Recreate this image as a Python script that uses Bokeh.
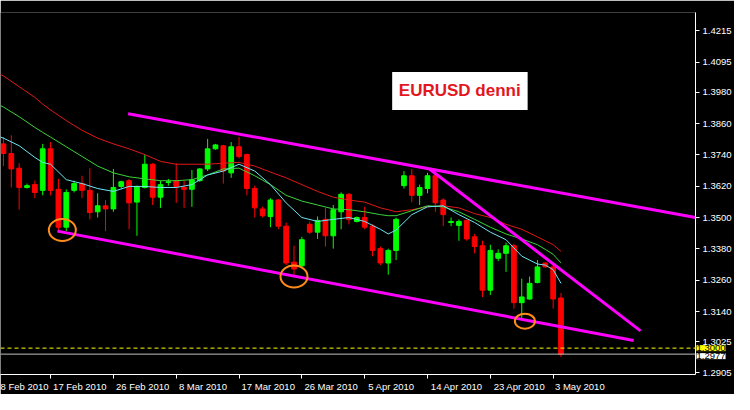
from bokeh.plotting import figure
from bokeh.models import (Range1d, FixedTicker, NumeralTickFormatter, Span, Label,
                          BoxAnnotation, ColumnDataSource)
from bokeh.embed import file_html
from bokeh.resources import INLINE

# ---------------- data ----------------
price_ticks = [1.2905, 1.3025, 1.3140, 1.3260, 1.3380, 1.3500, 1.3620,
               1.3740, 1.3860, 1.3980, 1.4095, 1.4215, 1.4335]
date_labels = ["8 Feb 2010", "17 Feb 2010", "26 Feb 2010", "8 Mar 2010", "17 Mar 2010",
               "26 Mar 2010", "5 Apr 2010", "14 Apr 2010", "23 Apr 2010", "3 May 2010"]
date_bars = [-2, 6, 14, 22, 30, 38, 46, 54, 62, 70]

open_ = [1.3782, 1.3745, 1.3689, 1.3615, 1.3626, 1.3604, 1.3763, 1.3608, 1.3463, 1.3604,
         1.3630, 1.3604, 1.3522, 1.3545, 1.3533, 1.3619, 1.3641, 1.3559, 1.3615, 1.3704,
         1.3578, 1.3634, 1.3641, 1.3615, 1.3608, 1.3641, 1.3686, 1.3763, 1.3775, 1.3671,
         1.3771, 1.3741, 1.3611, 1.3533, 1.3504, 1.3567, 1.3467, 1.3329, 1.3315, 1.3474,
         1.3444, 1.3493, 1.3430, 1.3522, 1.3589, 1.3485, 1.3500, 1.3467, 1.3381, 1.3326,
         1.3374, 1.3622, 1.3660, 1.3585, 1.3611, 1.3660, 1.3567, 1.3481, 1.3470, 1.3489,
         1.3426, 1.3392, 1.3222, 1.3344, 1.3363, 1.3392, 1.3174, 1.3188, 1.3251, 1.3326,
         1.3311, 1.3192]
high = [1.3808, 1.3815, 1.3708, 1.3630, 1.3641, 1.3782, 1.3789, 1.3648, 1.3608, 1.3641,
        1.3660, 1.3689, 1.3593, 1.3567, 1.3686, 1.3641, 1.3648, 1.3622, 1.3741, 1.3708,
        1.3641, 1.3648, 1.3708, 1.3641, 1.3682, 1.3689, 1.3801, 1.3782, 1.3778, 1.3789,
        1.3808, 1.3745, 1.3622, 1.3541, 1.3574, 1.3570, 1.3481, 1.3392, 1.3426, 1.3485,
        1.3504, 1.3537, 1.3548, 1.3596, 1.3593, 1.3504, 1.3541, 1.3474, 1.3389, 1.3381,
        1.3500, 1.3678, 1.3686, 1.3626, 1.3671, 1.3671, 1.3574, 1.3500, 1.3493, 1.3493,
        1.3437, 1.3411, 1.3396, 1.3378, 1.3404, 1.3400, 1.3266, 1.3274, 1.3337, 1.3329,
        1.3318, 1.3211]
low = [1.3697, 1.3615, 1.3530, 1.3611, 1.3574, 1.3585, 1.3585, 1.3448, 1.3448, 1.3596,
       1.3574, 1.3493, 1.3500, 1.3448, 1.3522, 1.3611, 1.3455, 1.3430, 1.3611, 1.3548,
       1.3537, 1.3622, 1.3556, 1.3537, 1.3541, 1.3637, 1.3678, 1.3760, 1.3630, 1.3652,
       1.3726, 1.3585, 1.3500, 1.3500, 1.3463, 1.3455, 1.3318, 1.3281, 1.3307, 1.3437,
       1.3418, 1.3389, 1.3381, 1.3455, 1.3474, 1.3481, 1.3455, 1.3352, 1.3318, 1.3281,
       1.3337, 1.3611, 1.3559, 1.3548, 1.3593, 1.3522, 1.3467, 1.3467, 1.3411, 1.3411,
       1.3363, 1.3196, 1.3203, 1.3333, 1.3292, 1.3151, 1.3110, 1.3185, 1.3248, 1.3307,
       1.3151, 1.2966]
close = [1.3745, 1.3686, 1.3615, 1.3622, 1.3596, 1.3763, 1.3604, 1.3463, 1.3596, 1.3630,
         1.3604, 1.3519, 1.3545, 1.3533, 1.3615, 1.3637, 1.3556, 1.3619, 1.3704, 1.3578,
         1.3626, 1.3637, 1.3619, 1.3608, 1.3645, 1.3686, 1.3763, 1.3778, 1.3678, 1.3771,
         1.3734, 1.3611, 1.3537, 1.3507, 1.3567, 1.3467, 1.3326, 1.3303, 1.3415, 1.3444,
         1.3489, 1.3430, 1.3530, 1.3589, 1.3493, 1.3500, 1.3463, 1.3374, 1.3326, 1.3374,
         1.3493, 1.3660, 1.3585, 1.3615, 1.3660, 1.3556, 1.3511, 1.3485, 1.3485, 1.3418,
         1.3389, 1.3222, 1.3374, 1.3363, 1.3392, 1.3174, 1.3196, 1.3248, 1.3311, 1.3311,
         1.3188, 1.2977]

ma_bars = [-1, 0, 2, 4, 5, 6, 8, 10, 12, 14, 16, 18, 20, 22, 24, 26, 28, 30, 32, 34,
           36, 38, 40, 42, 44, 46, 48, 49, 50, 52, 54, 56, 58, 60, 62, 64, 66, 68, 69, 70, 71]
ma_slow = [1.4057, 1.4042, 1.4001, 1.3960, 1.3934, 1.3912, 1.3871, 1.3834, 1.3804, 1.3782,
           1.3763, 1.3741, 1.3715, 1.3704, 1.3704, 1.3704, 1.3708, 1.3711, 1.3697, 1.3674,
           1.3652, 1.3626, 1.3600, 1.3578, 1.3567, 1.3559, 1.3537, 1.3530, 1.3522, 1.3530,
           1.3541, 1.3545, 1.3537, 1.3515, 1.3500, 1.3474, 1.3455, 1.3426, 1.3411, 1.3396,
           1.3370]
ma_mid = [1.3938, 1.3923, 1.3886, 1.3845, 1.3826, 1.3808, 1.3771, 1.3734, 1.3697, 1.3671,
          1.3656, 1.3648, 1.3641, 1.3641, 1.3645, 1.3663, 1.3686, 1.3689, 1.3660, 1.3626,
          1.3585, 1.3563, 1.3548, 1.3533, 1.3530, 1.3522, 1.3511, 1.3507, 1.3507, 1.3526,
          1.3545, 1.3541, 1.3522, 1.3493, 1.3463, 1.3437, 1.3418, 1.3396, 1.3378, 1.3359,
          1.3326]
ma_fast = [1.3815, 1.3804, 1.3775, 1.3730, 1.3711, 1.3704, 1.3645, 1.3630, 1.3611, 1.3600,
           1.3619, 1.3619, 1.3615, 1.3615, 1.3626, 1.3663, 1.3678, 1.3704, 1.3678, 1.3626,
           1.3556, 1.3500, 1.3485, 1.3493, 1.3500, 1.3485, 1.3455, 1.3437, 1.3452, 1.3511,
           1.3541, 1.3545, 1.3511, 1.3481, 1.3444, 1.3415, 1.3352, 1.3322, 1.3318, 1.3300,
           1.3248]

upper_x = [15.875, 88.125]
upper_y = [1.3897, 1.3500]
lower_x = [6.875, 80.25]
lower_y = [1.3448, 1.3029]
diag_x = [54.25, 81.125]
diag_y = [1.3686, 1.3066]

circ_x = [7.5, 37.0, 66.4]
circ_y = [1.3452, 1.3274, 1.3103]

ask_level = 1.3000
bid_level = 1.2977
title_text = "EURUSD denni"

# ---------------- figure ----------------
BULL = "#00ff00"
BEAR = "#ff0000"
FONT = "Liberation Sans"

p = figure(width=734, height=394,
           x_range=Range1d(-0.375, 88.125), y_range=Range1d(1.2899, 1.4285),
           y_axis_location="right", output_backend="svg", toolbar_location=None,
           background_fill_color="black", border_fill_color="black",
           min_border_left=0, min_border_top=0, min_border_right=0, min_border_bottom=0)
p.outline_line_color = None
p.grid.visible = False

# candles
bars = list(range(len(open_)))
up = [i for i in bars if close[i] >= open_[i]]
dn = [i for i in bars if close[i] < open_[i]]

def src(idx):
    return ColumnDataSource(dict(
        x=[bars[i] for i in idx],
        o=[open_[i] for i in idx], h=[high[i] for i in idx],
        l=[low[i] for i in idx], c=[close[i] for i in idx]))

su, sd = src(up), src(dn)
p.segment(x0="x", y0="l", x1="x", y1="h", source=su, line_color=BULL, line_width=1)
p.segment(x0="x", y0="l", x1="x", y1="h", source=sd, line_color=BEAR, line_width=1)
p.vbar(x="x", bottom="o", top="c", width=0.6, source=su, fill_color=BULL, line_color=BULL)
p.vbar(x="x", bottom="c", top="o", width=0.6, source=sd, fill_color=BEAR, line_color=BEAR)

# moving averages
p.line(ma_bars, ma_slow, line_color="#e01818", line_width=1)
p.line(ma_bars, ma_mid, line_color="#3ad23a", line_width=1)
p.line(ma_bars, ma_fast, line_color="#6ee4f4", line_width=1)

# trend lines
for xs, ys in ((upper_x, upper_y), (lower_x, lower_y), (diag_x, diag_y)):
    p.line(xs, ys, line_color="#ff00ff", line_width=3)

# circles
p.ellipse(x=circ_x, y=circ_y, width=[27, 27, 20], height=[22, 22, 15],
          width_units="screen", height_units="screen",
          fill_color=None, line_color="#ff8c1a", line_width=2)

# price levels
p.add_layout(Span(location=ask_level, dimension="width", line_color="#ffff00",
                  line_dash="4 3", line_width=1))
p.add_layout(Span(location=bid_level, dimension="width", line_color="#c0c0c0",
                  line_width=1))

# title box
p.add_layout(BoxAnnotation(left=49.5, right=66.75, top=1.4057, bottom=1.3912,
                           fill_color="white", fill_alpha=1.0, line_color=None))
p.add_layout(Label(x=58.1, y=1.3985, text=title_text, text_align="center",
                   text_baseline="middle", text_color="#e3161e",
                   text_font=FONT, text_font_style="bold",
                   text_font_size="17px"))

# axes
ya = p.yaxis[0]
ya.ticker = FixedTicker(ticks=price_ticks)
ya.formatter = NumeralTickFormatter(format="0.0000")
ya.axis_line_color = "white"
ya.major_tick_line_color = "white"
ya.major_tick_out = 4
ya.major_tick_in = 0
ya.minor_tick_line_color = None
ya.major_label_text_color = "white"
ya.major_label_text_font = FONT
ya.major_label_text_font_size = "9.5px"
ya.major_label_standoff = 3

label_pos = [round(b + 0.2 + 0.32 * len(t), 2) for b, t in zip(date_bars, date_labels)]
xa = p.xaxis[0]
xa.ticker = FixedTicker(ticks=label_pos, minor_ticks=date_bars)
xa.major_label_overrides = {pos: t for pos, t in zip(label_pos, date_labels)}
xa.axis_line_color = "white"
xa.major_tick_line_color = None
xa.major_tick_out = 0
xa.major_tick_in = 0
xa.minor_tick_line_color = "white"
xa.minor_tick_out = 4
xa.minor_tick_in = 0
xa.major_label_text_color = "white"
xa.major_label_text_font = FONT
xa.major_label_text_font_size = "9.5px"
xa.major_label_standoff = 2

# current price tags on the price axis: placed in a side panel so they are not
# clipped to the plotting frame (positioned in data units). Bid first, ask on top.
for lvl, bg, dy in ((bid_level, "#ffffff", -2), (ask_level, "#ffff00", 0)):
    p.add_layout(Label(x=88.125, y=lvl, x_offset=1, y_offset=dy, text=f"{lvl:.4f}",
                       text_color="black", background_fill_color=bg,
                       text_baseline="middle", text_font=FONT,
                       text_font_size="9.5px"), "above")

open("out.html", "w").write(file_html(p, INLINE))
